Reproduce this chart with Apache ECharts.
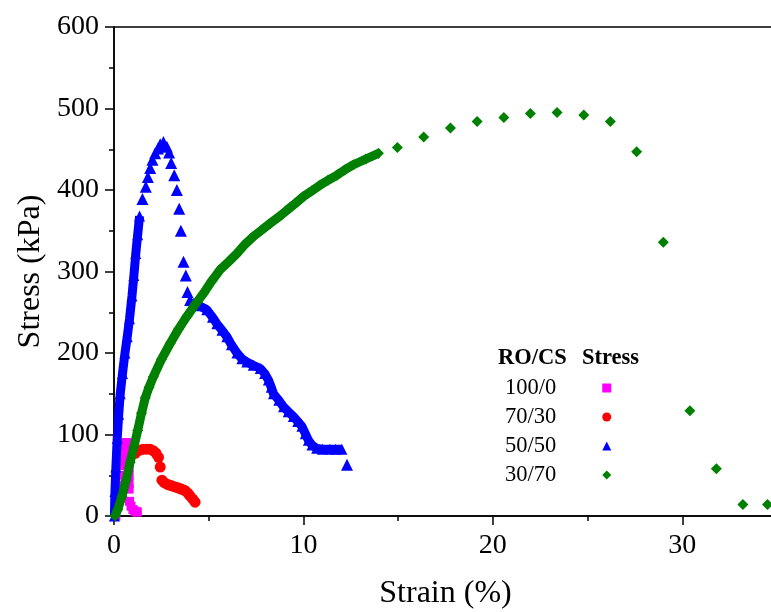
<!DOCTYPE html>
<html>
<head>
<meta charset="utf-8">
<script src="https://cdn.jsdelivr.net/npm/echarts@6/dist/echarts.min.js"></script>
<style>
html,body{margin:0;padding:0;background:#fff;}
#chart{width:771px;height:612px;}
</style>
</head>
<body>
<div id="chart"></div>
<script>
// ---- data (strain %, stress kPa) ----
var seriesNames = ['100/0', '70/30', '50/50', '30/70'];
var xTicks = [0, 10, 20, 30];
var yTicks = [0, 100, 200, 300, 400, 500, 600];

var pink = [[0.1,0],[0.15,12],[0.2,25],[0.25,38],[0.3,50],[0.35,62],[0.4,72],[0.45,80],[0.5,86],[0.55,89],[0.62,90],
  [0.7,90],[0.79,89],[0.8,80],[0.8,70],[0.8,60],[0.8,50],[0.8,40],[0.8,33],[0.82,18],[0.9,12],[1.0,8],[1.1,6],[1.2,5],[1.23,5]];

var red = [[1.12,77],[1.25,80],[1.39,81],[1.55,82],[1.73,82],[1.9,82],[2.08,80],
  [2.22,77],[2.35,72],[2.44,60],[2.53,44],[2.65,41],[2.79,39],[2.92,38],[3.05,37],[3.18,36],[3.32,35],[3.45,34],[3.55,33],
  [3.66,32],[3.76,31],[3.9,28],[4.0,25],[4.15,21],[4.28,17]];

var blueRise = [[0.02,0],[0.05,30],[0.1,60],[0.17,95],[0.25,125],[0.33,150],[0.45,175],[0.58,200],[0.7,220],[0.82,242],
  [0.95,270],[1.05,295],[1.15,322],[1.25,345],[1.35,368]];
var bluePeak = [[1.50,389],[1.68,404],[1.79,416],[1.91,427],[2.03,437],[2.17,445],[2.32,451],[2.44,456],[2.61,459],
  [2.79,453],[2.91,446],[3.02,433],[3.18,418],[3.32,400],[3.44,377],[3.53,350],[3.67,312],[3.79,295],[3.88,275],[4.02,265]];
var blueFall = [[4.2,261],[4.5,258],[4.9,253],[5.2,244],[5.43,236],[5.7,228],[5.96,220],[6.2,210],[6.49,200],[6.75,193],
  [7.01,189],[7.35,185],[7.72,181],[7.95,175],[8.15,167],[8.3,158],[8.42,150],[8.7,142],[8.95,134],[9.2,128],[9.47,122],
  [9.7,116],[9.92,110],[10.1,101],[10.26,93],[10.45,87],[10.7,83],[11.0,82],[11.4,82],[11.7,82],[12.03,82]];
var blueEnd = [[12.3,63]];

var greenDense = [[0.05,0],[0.2,8],[0.42,24],[0.64,44],[0.85,66],[1.05,85],[1.25,105],[1.45,126],[1.65,145],[1.85,158],
  [2.08,171],[2.5,192],[2.97,212],[3.4,229],[3.85,245],[4.3,260],[4.72,273],[5.15,288],[5.6,302],[6.05,312],[6.49,322],
  [6.9,333],[7.36,343],[7.8,351],[8.24,359],[8.7,367],[9.12,375],[9.55,383],[10.0,392],[10.45,399],[10.88,406],
  [11.3,412],[11.76,418],[12.2,425],[12.64,431],[13.3,438],[13.96,445]];
var greenSparse = [[14.96,452],[16.35,465],[17.76,476],[19.17,484],[20.58,489],[21.98,494],[23.39,495],[24.80,492],
  [26.20,484],[27.59,447],[29.0,336],[30.4,129],[31.8,58],[33.2,14],[34.5,14]];

var colors = ['#FF00FF', '#FF0000', '#0000FF', '#008000'];
var FONT = '"Liberation Serif","Times New Roman",serif';

var chart = echarts.init(document.getElementById('chart'), null, {renderer: 'canvas'});

function band(name, data, color, symbol, size, width, z) {
  return {
    name: name, type: 'line', data: data, z: z,
    symbol: symbol, symbolSize: size, showSymbol: true, showAllSymbol: true,
    itemStyle: {color: color}, lineStyle: {color: color, width: width},
    emphasis: {disabled: true}, silent: true, animation: false
  };
}
function dots(name, data, color, symbol, size, z) {
  return {
    name: name, type: 'scatter', data: data, z: z,
    symbol: symbol, symbolSize: size,
    itemStyle: {color: color, opacity: 1},
    emphasis: {disabled: true}, silent: true, animation: false
  };
}

var option = {
  animation: false,
  backgroundColor: '#fff',
  grid: {left: 114, top: 27, width: 663, height: 489, containLabel: false, outerBoundsMode: 'none',
    show: true, borderColor: '#000', borderWidth: 1.5, backgroundColor: 'transparent'},
  xAxis: {
    type: 'value', min: 0, max: 35, interval: 10,
    name: 'Strain (%)', nameLocation: 'middle', nameGap: 62,
    nameTextStyle: {fontFamily: FONT, fontSize: 32, color: '#000'},
    axisLine: {show: true, lineStyle: {color: '#000', width: 1.5}},
    axisTick: {show: true, inside: false, length: 9, lineStyle: {color: '#000', width: 1.5}},
    minorTick: {show: true, splitNumber: 2, length: 5, lineStyle: {color: '#000', width: 1.5}},
    splitLine: {show: false},
    axisLabel: {fontFamily: FONT, fontSize: 28, color: '#000', margin: 16, showMaxLabel: false,
      formatter: function (v) { return xTicks.indexOf(v) >= 0 ? String(v) : ''; }}
  },
  yAxis: {
    type: 'value', min: 0, max: 600, interval: 100,
    name: 'Stress (kPa)', nameLocation: 'middle', nameGap: 60,
    nameTextStyle: {fontFamily: FONT, fontSize: 32, color: '#000'},
    axisLine: {show: true, lineStyle: {color: '#000', width: 1.5}},
    axisTick: {show: true, inside: false, length: 9, lineStyle: {color: '#000', width: 1.5}},
    minorTick: {show: true, splitNumber: 2, length: 5, lineStyle: {color: '#000', width: 1.5}},
    splitLine: {show: false},
    axisLabel: {fontFamily: FONT, fontSize: 28, color: '#000', margin: 15,
      formatter: function (v) { return yTicks.indexOf(v) >= 0 ? String(v) : ''; }}
  },
  legend: {
    orient: 'vertical', left: 500, top: 371, align: 'right',
    itemWidth: 9, itemHeight: 9, itemGap: 5, padding: 5,
    selectedMode: false,
    textStyle: {fontFamily: FONT, fontSize: 22.5, color: '#000', lineHeight: 24, padding: [0, 41, 0, 0]},
    data: [
      {name: seriesNames[0], icon: 'rect', itemStyle: {color: colors[0]}},
      {name: seriesNames[1], icon: 'circle', itemStyle: {color: colors[1]}},
      {name: seriesNames[2], icon: 'triangle', itemStyle: {color: colors[2]}},
      {name: seriesNames[3], icon: 'diamond', itemStyle: {color: colors[3]}}
    ]
  },
  graphic: [
    {type: 'text', left: 498, top: 347, style: {text: 'RO/CS', font: 'bold 22.5px ' + FONT, fill: '#000'}},
    {type: 'text', left: 582, top: 347, style: {text: 'Stress', font: 'bold 22.5px ' + FONT, fill: '#000'}}
  ],
  series: [
    dots(seriesNames[0], pink, colors[0], 'rect', 9, 1),
    dots(seriesNames[1], red, colors[1], 'circle', 11, 2),
    band(seriesNames[2], blueRise, colors[2], 'triangle', 11, 9, 3),
    dots(seriesNames[2], bluePeak, colors[2], 'triangle', 12, 3),
    band(seriesNames[2], blueFall, colors[2], 'triangle', 11, 9, 3),
    dots(seriesNames[2], blueEnd, colors[2], 'triangle', 12, 3),
    band(seriesNames[3], greenDense, colors[3], 'diamond', 11, 9, 4),
    dots(seriesNames[3], greenSparse, colors[3], 'diamond', 11, 4)
  ]
};
chart.setOption(option);
</script>
</body>
</html>
